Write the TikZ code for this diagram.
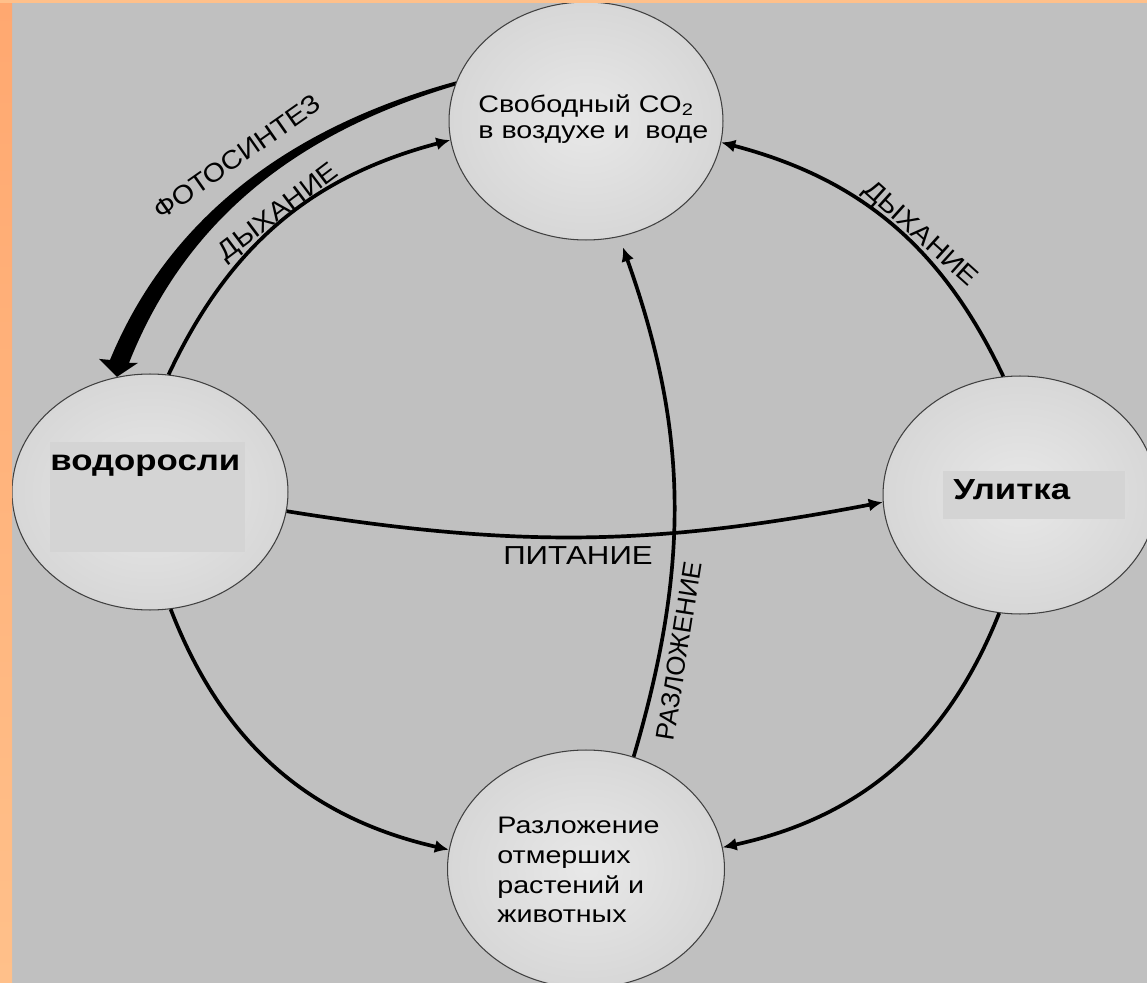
\documentclass[tikz,border=0pt]{standalone}
\usepackage{fontspec}
\setmainfont{Liberation Sans}[FakeStretch=1.2]
\newfontfamily\slantfont{Liberation Sans}[FakeStretch=1.1]
\newfontfamily\upfont{Liberation Sans}
\usetikzlibrary{shapes.geometric,arrows.meta,calc}

\definecolor{pagegray}{RGB}{192,192,192}
\definecolor{frametop}{RGB}{255,168,112}
\definecolor{framebottom}{RGB}{255,192,138}
\definecolor{bubblemid}{RGB}{232,232,232}
\definecolor{bubbleedge}{RGB}{198,198,198}
\definecolor{tagfill}{RGB}{212,212,212}
\pgfdeclareradialshading{bubbleshade}{\pgfpoint{0bp}{0bp}}{color(0bp)=(bubblemid); color(50bp)=(bubbleedge)}

\tikzset{bubble/.style={ellipse,draw=black!75,line width=0.6pt,shade,shading=bubbleshade,minimum width=5.48cm,minimum height=4.76cm,inner sep=0pt}}
\tikzset{flow/.style={line width=2.1pt,-{Latex[length=0.28cm,width=0.26cm]}}}
\tikzset{txt/.style={inner sep=0pt,align=left,font=\fontsize{13.6}{16.9}\selectfont}}
\tikzset{tag/.style={inner sep=0pt,font=\bfseries\fontsize{16.5}{18}\selectfont}}
\tikzset{arclabel/.style={inner sep=0pt,font=\slantfont\fontsize{14.8}{16}\selectfont}}

\begin{document}
\begin{tikzpicture}[x=0.02cm,y=-0.02cm]
      \fill[pagegray] (0,0) rectangle (1147,983);
      \useasboundingbox (0,0) rectangle (1147,983);
      % circles
      \node[bubble] (co2) at (586,121) {};
      \node[bubble,minimum width=5.52cm,minimum height=4.72cm] (alg) at (150,492) {};
      \node[bubble] (snail) at (1020,495) {};
      \node[bubble,minimum width=5.54cm] (decay) at (586,869) {};
      \node[fill=tagfill,inner sep=0pt,minimum width=3.9cm,minimum height=2.2cm,anchor=north west] (algbox) at (50,442) {};
      \node[fill=tagfill,inner sep=0pt,minimum width=3.64cm,minimum height=0.96cm,anchor=north west] (snailbox) at (943,471) {};
      \node[txt,anchor=north west,font=\fontsize{13.6}{15.3}\selectfont] (co2txt) at (478,94) {Свободный CO\textsubscript{2}\\в воздухе и\ \ воде};
      \node[txt,anchor=north west] (decaytxt) at (497,817) {Разложение\\отмерших\\растений и\\животных};
      \node[tag,anchor=north west] (algtxt) at (50,455) {водоросли};
      \node[tag,anchor=north west] (snailtxt) at (953,479) {Улитка};
      % arrows
      \coordinate (ptip) at (alg.106);
      \fill (ptip) -- ++(-18,-18) -- ++(11,1) .. controls (172,210) and (300,124) .. (co2.163)
        -- (co2.165.5) .. controls (304,131) and (188,214) .. ($(ptip)+(12,-14)$) -- ($(ptip)+(21,-14)$) -- cycle;
      \draw[flow] (alg.81) to[bend left=25] (co2.188);
      \draw[flow] (snail.98) to[bend right=25] (co2.351);
      \draw[flow] (alg.-8) to[bend right=10] (snail.183);
      \draw[flow,shorten >=0.22cm] (decay.67) to[bend right=18] (co2.286);
      \draw[flow] (alg.280) to[bend right=28] (decay.172);
      \draw[flow] (snail.260) to[bend left=28] (decay.9);
      % labels
      \node[arclabel,rotate=35] (photolbl) at (237,157) {ФОТОСИНТЕЗ};
      \node[arclabel,rotate=37] (breathl) at (279,213) {ДЫХАНИЕ};
      \node[arclabel,rotate=-42] (breathr) at (920,235) {ДЫХАНИЕ};
      \node[inner sep=0pt,font=\fontsize{14.8}{16}\selectfont] (feedlbl) at (578,556) {ПИТАНИЕ};
      \node[inner sep=0pt,rotate=81,font=\upfont\fontsize{14.8}{16}\selectfont] (rotlbl) at (679,651) {РАЗЛОЖЕНИЕ};
      % frame
      \shade[top color=frametop,bottom color=framebottom] (0,0) rectangle (12,983);
      \fill[framebottom] (0,0) rectangle (1147,3);
    \end{tikzpicture}
\end{document}
